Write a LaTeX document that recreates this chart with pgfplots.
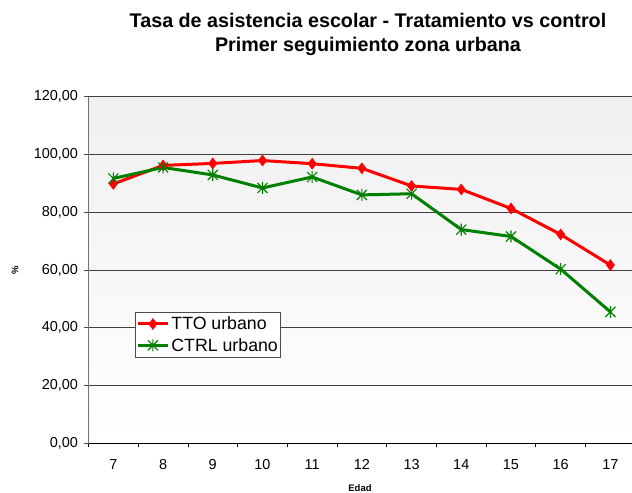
\documentclass[border=0pt]{standalone}
\usepackage{fontspec}
\setmainfont{Liberation Sans}
\usepackage{pgfplots}
\pgfplotsset{compat=1.18}
\definecolor{ttored}{RGB}{255,0,0}
\definecolor{ctrlgreen}{RGB}{0,128,0}
\pgfdeclareplotmark{xstar}{%
  \pgfpathmoveto{\pgfqpoint{-\pgfplotmarksize}{-\pgfplotmarksize}}%
  \pgfpathlineto{\pgfqpoint{\pgfplotmarksize}{\pgfplotmarksize}}%
  \pgfpathmoveto{\pgfqpoint{-\pgfplotmarksize}{\pgfplotmarksize}}%
  \pgfpathlineto{\pgfqpoint{\pgfplotmarksize}{-\pgfplotmarksize}}%
  \pgfpathmoveto{\pgfqpoint{0pt}{-1.2\pgfplotmarksize}}%
  \pgfpathlineto{\pgfqpoint{0pt}{1.2\pgfplotmarksize}}%
  \pgfusepathqstroke}
\begin{document}
\begin{tikzpicture}[x=1bp,y=1bp]
\useasboundingbox (0,0) rectangle (632,493);
\node[anchor=base,font=\fontsize{19.8}{23}\selectfont\bfseries] at (368,465) {Tasa de asistencia escolar - Tratamiento vs control};
\node[anchor=base,font=\fontsize{19.8}{23}\selectfont\bfseries] at (368,441) {Primer seguimiento zona urbana};
\begin{axis}[
  at={(88.5bp,49.7bp)}, anchor=south west,
  scale only axis, width=543.5bp, height=346.6bp,
  xmin=6.5, xmax=17.435, ymin=0, ymax=120,
  axis x line*=bottom, axis y line*=left,
  x axis line style={black,line width=1bp,-},
  y axis line style={black!55,line width=1bp,-},
  xtick={7,...,17},
  minor xtick={6.5,7.5,...,16.5},
  major x tick style={draw=none},
  minor x tick style={black,line width=0.8bp},
  minor tick length=4bp,
  ytick={0,20,...,120},
  major y tick style={black!70,line width=0.8bp},
  major tick length=5bp,
  tick align=outside,
  ymajorgrids,
  major grid style={black!75,line width=0.8bp},
  axis background/.style={shade,top color=black!6,bottom color=white},
  /pgf/number format/assume math mode=true,
  yticklabel={\pgfmathprintnumber[fixed,fixed zerofill,precision=2,use comma]{\tick}},
  ticklabel style={font=\fontsize{14.5}{17}\selectfont},
  yticklabel style={xshift=-2bp},
  xticklabel style={yshift=-8bp},
  xlabel={Edad},
  xlabel style={at={(axis description cs:0.4995,-0.129)},anchor=center,font=\fontsize{9.5}{11}\selectfont\bfseries},
  ylabel={\%},
  ylabel style={at={(axis description cs:-0.135,0.5)},anchor=center,rotate=0,font=\fontsize{9.5}{11}\selectfont\bfseries},
  legend style={at={(axis description cs:0.0856,0.379)},anchor=north west,draw=black!70,line width=0.8bp,fill=white,
    font=\fontsize{17.8}{20}\selectfont,inner xsep=1bp,inner ysep=2.5bp,row sep=3bp},
  legend cell align=left,
  legend image code/.code={\draw[#1] (0bp,0bp) -- (30bp,0bp); \draw[#1,mark repeat=1] plot coordinates {(15bp,0bp)};},
]
\addplot[ttored,line width=3bp,mark=diamond*,mark size=5.5bp,mark options={line width=0.5bp,fill=ttored}]
coordinates {(7,89.8) (8,96.2) (9,96.9) (10,97.9) (11,96.8) (12,95.2) (13,89.1) (14,87.9) (15,81.3) (16,72.3) (17,61.7)};
\addlegendentry{TTO urbano}
\addplot[ctrlgreen,line width=3bp,mark=xstar,mark size=5bp,mark options={line width=1.1bp}]
coordinates {(7,91.7) (8,95.5) (9,92.9) (10,88.4) (11,92.2) (12,86.0) (13,86.4) (14,74.0) (15,71.6) (16,60.3) (17,45.5)};
\addlegendentry{CTRL urbano}
\end{axis}
\end{tikzpicture}
\end{document}
